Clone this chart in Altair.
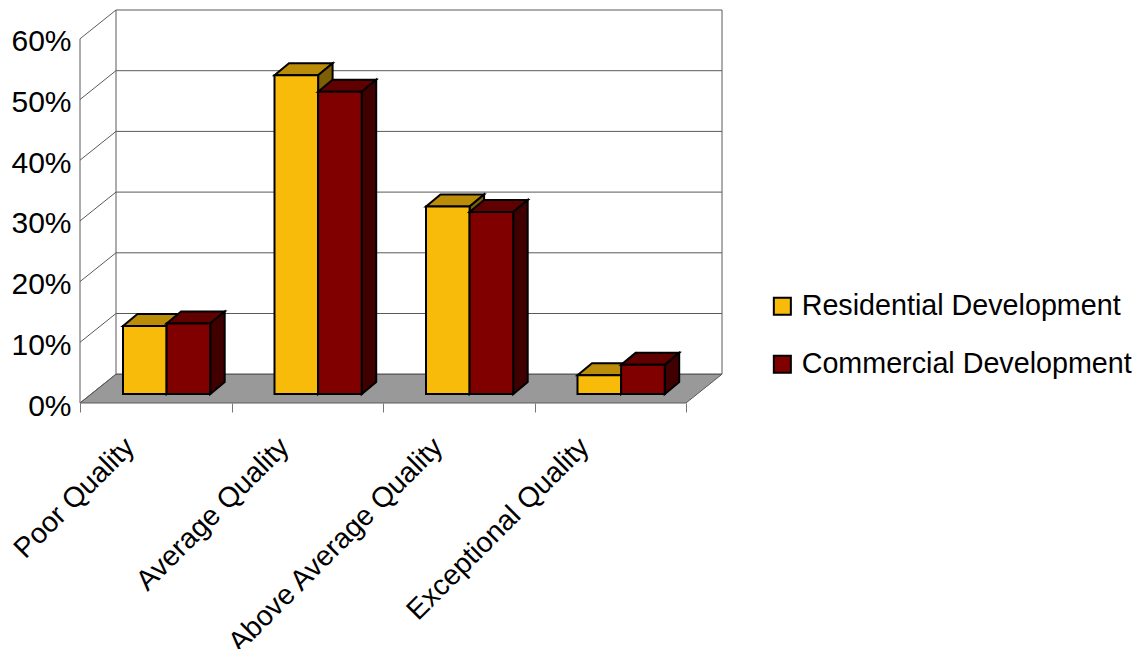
import altair as alt
import pandas as pd

categories = ["Poor Quality", "Average Quality", "Above Average Quality", "Exceptional Quality"]
series = ["Residential Development", "Commercial Development"]
residential = [11.2, 52.5, 30.9, 3.1]
commercial = [11.6, 49.8, 30.0, 4.8]
y_ticks = [0, 10, 20, 30, 40, 50, 60]

FONT = "Liberation Sans"
W, H = 641, 393
CAT_PX, PCT_PX = 151.5, 6.07
WALL_DX, WALL_DY = 36 / CAT_PX, 28.8 / PCT_PX
BAR_START, BAR_W = 43 / CAT_PX, 43.6 / CAT_PX
BAR_DX, BAR_DY = 14.5 / CAT_PX, 12 / PCT_PX
BASE = 9 / PCT_PX
LABEL_SHIFTS = [0.325, 0.345, 0.36, 0.325]
XDOM = [0, W / CAT_PX]
YDOM = [0, H / PCT_PX]

xs = alt.Scale(domain=XDOM, nice=False, zero=False)
ys = alt.Scale(domain=YDOM, nice=False, zero=False)
GRID = "#5a5a5a"

# walls and floor
floor = pd.DataFrame({
    "x": [0, WALL_DX, len(categories), len(categories) + WALL_DX],
    "y": [0, WALL_DY, WALL_DY, WALL_DY],
    "y2": [0, 0, 0, WALL_DY],
})
grid_df = pd.DataFrame({
    "x": [WALL_DX for _ in y_ticks],
    "x2": [len(categories) + WALL_DX for _ in y_ticks],
    "y": [t + WALL_DY for t in y_ticks],
})
diag_df = pd.DataFrame({
    "x": [0.0 for _ in y_ticks],
    "x2": [WALL_DX for _ in y_ticks],
    "y": [float(t) for t in y_ticks],
    "y2": [t + WALL_DY for t in y_ticks],
})
vert_df = pd.DataFrame({
    "x": [0, WALL_DX, len(categories) + WALL_DX],
    "y": [0, WALL_DY, WALL_DY],
    "y2": [60, 60 + WALL_DY, 60 + WALL_DY],
})

X = alt.X("x:Q", scale=xs, title=None)
Y = alt.Y("y:Q", scale=ys, title=None)

floor_l = alt.Chart(floor).mark_area(fill="#999999", stroke=GRID, strokeWidth=1).encode(X, Y, y2="y2:Q")
grid_l = alt.Chart(grid_df).mark_rule(color=GRID, strokeWidth=1).encode(X, Y, x2="x2:Q")
diag_l = alt.Chart(diag_df).mark_rule(color=GRID, strokeWidth=1).encode(X, Y, x2="x2:Q", y2="y2:Q")
vert_l = alt.Chart(vert_df).mark_rule(color=GRID, strokeWidth=1).encode(X, Y, y2="y2:Q")

# axes (no marks of their own)
label_expr = "datum.value % 1 === 0 ? '' : " + str(categories) + "[floor(datum.value)]"
x_vals = sorted([float(i) for i in range(len(categories) + 1)] + [i + s for i, s in enumerate(LABEL_SHIFTS)])
axes_l = alt.Chart(pd.DataFrame({"x": [0.0], "y": [0.0]})).mark_point(opacity=0).encode(
    x=alt.X("x:Q", scale=xs, title=None, axis=alt.Axis(
        values=x_vals, labelExpr=label_expr, grid=False, domain=False,
        tickSize=9, tickColor="#777777", tickWidth=1,
        tickOpacity={"condition": {"test": "datum.value % 1 === 0", "value": 1}, "value": 0},
        labelAngle=-45, labelAlign="right", labelBaseline="middle", labelPadding=30,
        labelFont=FONT, labelFontSize=28.5, labelColor="black", labelOverlap=False, labelBound=False,
        labelFlush=False, labelLimit=500)),
    y=alt.Y("y:Q", scale=ys, title=None, axis=alt.Axis(
        values=y_ticks, labelExpr="datum.value + '%'", grid=False, domain=False,
        ticks=False, labelPadding=9, labelFont=FONT, labelFontSize=30, labelColor="black",
        labelOffset=3, labelOverlap=False, labelBound=False, labelFlush=False)),
)


def faces(values, offset):
    top, side, front = [], [], []
    for i, v in enumerate(values):
        x0 = i + BAR_START + offset * BAR_W
        x1 = x0 + BAR_W
        b, t = BASE, BASE + v
        top += [
            {"g": i, "x": x0, "y": t, "y2": t},
            {"g": i, "x": x0 + BAR_DX, "y": t + BAR_DY, "y2": t},
            {"g": i, "x": x1, "y": t + BAR_DY, "y2": t},
            {"g": i, "x": x1 + BAR_DX, "y": t + BAR_DY, "y2": t + BAR_DY},
        ]
        side += [
            {"g": i, "x": x1, "y": t, "y2": b},
            {"g": i, "x": x1 + BAR_DX, "y": t + BAR_DY, "y2": b + BAR_DY},
        ]
        front.append({"x": x0, "x2": x1, "y": t, "y2": b})
    return pd.DataFrame(top), pd.DataFrame(side), pd.DataFrame(front)


color_scale = alt.Scale(domain=series, range=["#F9BB0A", "#800000"])
legend = alt.Legend(
    title=None, orient="none", legendX=688, legendY=282, symbolType="square", symbolSize=290,
    symbolStrokeColor="black", symbolStrokeWidth=2, labelFont=FONT, labelFontSize=28.7,
    labelColor="black", rowPadding=28, labelOffset=5, padding=0, labelLimit=400,
)


def bar_layers(values, offset, name, top_c, side_c):
    t, s, f = faces(values, offset)
    stroke = dict(stroke="black", strokeWidth=2, strokeJoin="miter")
    return [
        alt.Chart(t).mark_area(fill=top_c, **stroke).encode(X, Y, y2="y2:Q", detail="g:N"),
        alt.Chart(s).mark_area(fill=side_c, **stroke).encode(X, Y, y2="y2:Q", detail="g:N"),
        alt.Chart(f.assign(s=name)).mark_rect(**stroke).encode(
            X, x2="x2:Q", y=Y, y2="y2:Q",
            color=alt.Color("s:N", scale=color_scale, legend=legend, sort=series)),
    ]


layers = [axes_l, floor_l, grid_l, diag_l, vert_l]
layers += bar_layers(residential, 0, series[0], "#BB8C07", "#7D5E05")
layers += bar_layers(commercial, 1, series[1], "#600000", "#400000")

chart = alt.layer(*layers).properties(
    width=W, height=H,
    autosize=alt.AutoSizeParams(type="none"),
    padding={"left": 72, "top": 2, "right": 411, "bottom": 246},
).configure_view(stroke=None)

chart.save("out.html", embed_options={"renderer": "svg", "actions": False})
